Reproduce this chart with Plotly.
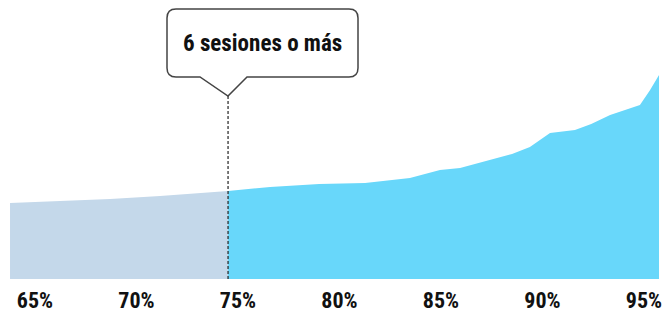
import plotly.graph_objects as go

# Data (x: percentage, y: relative height)
x_pct = [63.77, 66.23, 68.7, 71.16, 73.0, 74.51, 76.58, 79.0, 81.26, 83.47, 84.95, 85.94,
         87.41, 88.5, 89.38, 90.37, 91.6, 92.4, 93.33, 94.8, 95.3, 95.74]
y_val = [76, 78, 80, 83, 86, 88, 92, 95, 96, 101, 109, 111,
         119, 125, 132, 146, 149, 155, 164, 174, 189, 204]
split_x = 74.51
tick_vals = [65, 70, 75, 80, 85, 90, 95]
tick_text = ["65%", "70%", "75%", "80%", "85%", "90%", "95%"]
label_text = "6 sesiones o más"

FONT = "Liberation Sans Narrow, Roboto Condensed, DejaVu Sans Condensed, sans-serif"
W, H = 669, 316
B = 37
PH = H - B

left_x = [v for v in x_pct if v <= split_x]
left_y = [y for v, y in zip(x_pct, y_val) if v <= split_x]
right_x = [v for v in x_pct if v >= split_x]
right_y = [y for v, y in zip(x_pct, y_val) if v >= split_x]

fig = go.Figure()
fig.add_trace(go.Scatter(x=left_x, y=left_y, mode="lines", line=dict(width=0),
                         fill="tozeroy", fillcolor="#c4d8ea", hoverinfo="skip"))
fig.add_trace(go.Scatter(x=right_x, y=right_y, mode="lines", line=dict(width=0),
                         fill="tozeroy", fillcolor="#68d7fa", hoverinfo="skip"))

# dashed divider
fig.add_shape(type="line", x0=split_x, x1=split_x, y0=0, y1=(279 - 96),
              xref="x", yref="y", line=dict(color="#222", width=1.2, dash="3px,2px"))

# callout box (paper coords from pixel positions)
def px(x):
    return x / W
def py(y):
    return (PH - y) / PH

L, R, T, Bt, r = 167, 358, 9, 77, 9
p1, p2, tipx, tipy = 200, 247, 228, 96
path = (f"M {px(L+r)},{py(T)} L {px(R-r)},{py(T)} Q {px(R)},{py(T)} {px(R)},{py(T+r)} "
        f"L {px(R)},{py(Bt-r)} Q {px(R)},{py(Bt)} {px(R-r)},{py(Bt)} "
        f"L {px(p2)},{py(Bt)} L {px(tipx)},{py(tipy)} L {px(p1)},{py(Bt)} "
        f"L {px(L+r)},{py(Bt)} Q {px(L)},{py(Bt)} {px(L)},{py(Bt-r)} "
        f"L {px(L)},{py(T+r)} Q {px(L)},{py(T)} {px(L+r)},{py(T)} Z")
fig.add_shape(type="path", path=path, xref="paper", yref="paper",
              line=dict(color="#444", width=1.5), fillcolor="white")
fig.add_annotation(x=px((L + R) / 2), y=py(43), xref="paper", yref="paper",
                   xanchor="center", yanchor="middle",
                   text=f"<b>{label_text}</b>", showarrow=False,
                   font=dict(family=FONT, size=23, color="#111"))

x_range = [65 - 35 / 20.3, 65 + (W - 35) / 20.3]
fig.update_layout(
    width=W, height=H, margin=dict(l=0, r=0, t=0, b=B, autoexpand=False),
    paper_bgcolor="white", plot_bgcolor="white", showlegend=False,
    xaxis=dict(range=x_range, tickvals=tick_vals, ticktext=[f"<b>{t}</b>" for t in tick_text],
               showgrid=False, zeroline=False, showline=False, ticks="outside",
               ticklen=2, tickcolor="rgba(0,0,0,0)", automargin=False,
               tickfont=dict(family=FONT, size=22, color="#111")),
    yaxis=dict(range=[0, PH], visible=False, showgrid=False, zeroline=False, automargin=False),
)
fig.write_html("out.html", config={"displayModeBar": False},
               post_script="document.body.style.margin='0';")
